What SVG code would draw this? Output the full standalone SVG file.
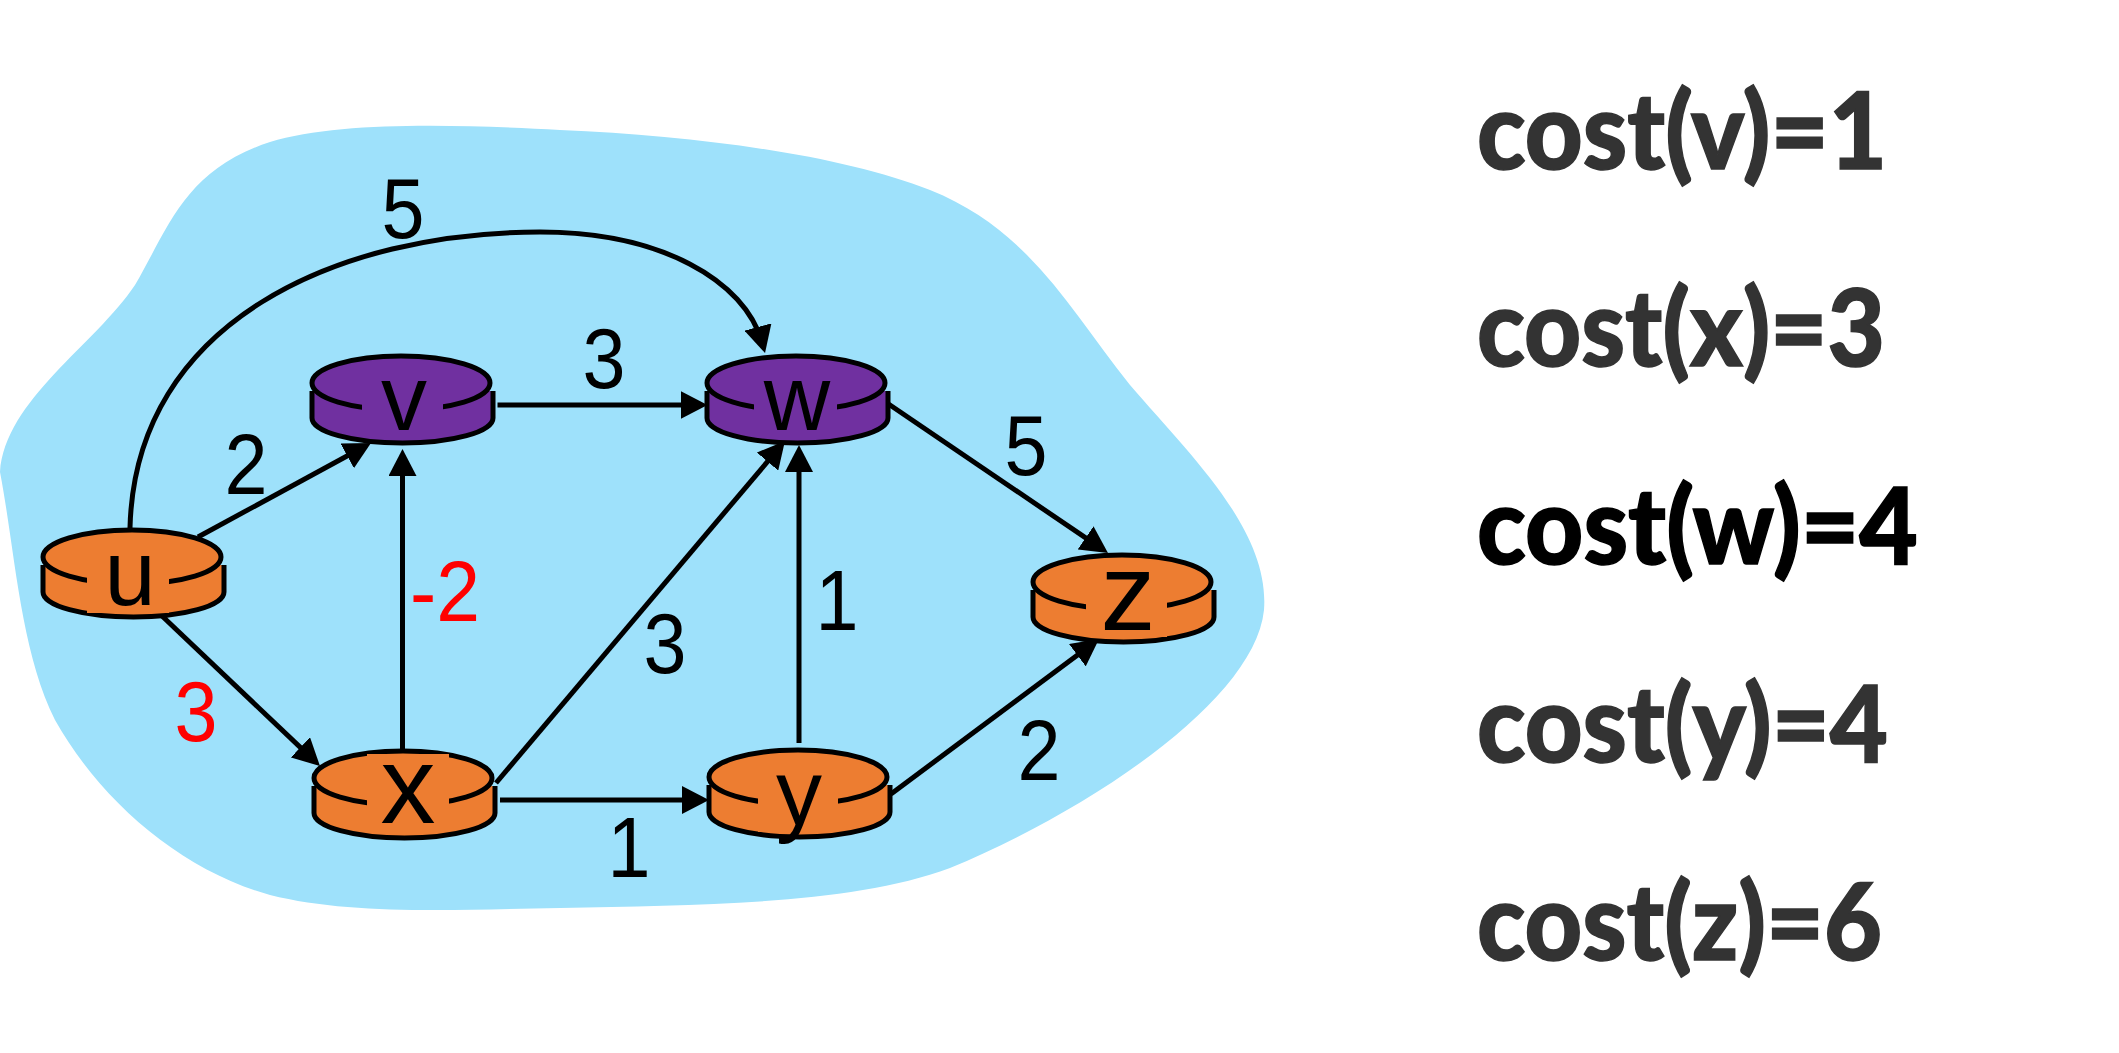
<svg xmlns="http://www.w3.org/2000/svg" width="2119" height="1053" viewBox="0 0 2119 1053">
<style>
.edge{fill:none;stroke:#000;stroke-width:5;marker-end:url(#arrow)}
.body,.top{stroke:#000;stroke-width:5;fill:inherit}
.orange{fill:#ED7D31}
.purple{fill:#7030A0}
.name{font-family:"Liberation Sans",Arial,sans-serif;font-size:92px;text-anchor:middle;fill:#000}
.big{font-size:110px}
.lab{font-family:"Liberation Sans",Arial,sans-serif;font-size:86px;text-anchor:middle;fill:#000}
.red{fill:#f00}
.cost{font-family:Lato,"Open Sans",sans-serif;font-weight:900;font-size:106px;fill:#333;stroke:#333;stroke-width:1.5}
.best{fill:#000;stroke:#000}
</style>
<defs>
<marker id="arrow" markerUnits="userSpaceOnUse" markerWidth="28" markerHeight="28" refX="17" refY="14" orient="auto"><path d="M0 0L27 14L0 28Z" fill="#000"/></marker>
<g id="disk">
<path class="body" d="M-89 8V35A90.500 25 0 0 0 92 35V8"/>
<ellipse class="top" cx="0" cy="0" rx="89" ry="27"/>
</g>
</defs>
<path id="cloud" fill="#9EE1FB" d="M0 472C5 400 95 345 135 285C170 225 185 170 270 142C340 120 470 125 560 130C700 136 840 155 930 190C1030 230 1070 310 1130 385C1190 455 1270 530 1264 610C1255 700 1090 810 950 868C850 905 700 905 560 908C450 910 350 915 270 895C180 870 100 800 55 720C20 650 15 550 0 472Z"/>
<g id="connectors">
<path class="edge" d="M130 528C135 320 340 232 540 232C660 232 745 280 762.400 343.400"/>
<path class="edge" d="M198 537L362.200 447.800"/>
<path class="edge" d="M161 615L312.700 759.100"/>
<path class="edge" d="M402.500 750V459"/>
<path class="edge" d="M497.500 405H697.500"/>
<path class="edge" d="M496 783L778.500 448.600"/>
<path class="edge" d="M799 743V455"/>
<path class="edge" d="M500 800H699"/>
<path class="edge" d="M891 794L1091 645"/>
<path class="edge" d="M887 403L1099.700 547.400"/>
</g>
<g id="node-u" class="orange" transform="translate(132 557)"><use href="#disk"/><rect x="-45" y="-18" width="82" height="74"/><text class="name" x="-2" y="48">u</text></g>
<g id="node-v" class="purple" transform="translate(401 383)"><use href="#disk"/><rect x="-39" y="-18" width="81" height="71"/><text class="name" x="3" y="47">v</text></g>
<g id="node-w" class="purple" transform="translate(796 383)"><use href="#disk"/><rect x="-42" y="-18" width="83" height="72"/><text class="name" x="1" y="47">w</text></g>
<g id="node-x" class="orange" transform="translate(403 778)"><use href="#disk"/><rect x="-36" y="-24" width="82" height="77"/><text class="name big" x="5" y="45">x</text></g>
<g id="node-y" class="orange" transform="translate(798 777)"><use href="#disk"/><rect x="-40" y="-18" width="80" height="73"/><text class="name" x="1" y="48">y</text></g>
<g id="node-z" class="orange" transform="translate(1122 582)"><use href="#disk"/><rect x="-36" y="-18" width="81" height="73"/><text class="name big" x="6" y="48">z</text></g>
<g id="labels">
<text class="lab" x="403" y="238" textLength="43" lengthAdjust="spacingAndGlyphs">5</text>
<text class="lab" x="246" y="494" textLength="43" lengthAdjust="spacingAndGlyphs">2</text>
<text class="lab" x="604" y="388" textLength="43" lengthAdjust="spacingAndGlyphs">3</text>
<text class="lab red" x="445" y="621" textLength="70" lengthAdjust="spacingAndGlyphs">-2</text>
<text class="lab" x="1026" y="475" textLength="43" lengthAdjust="spacingAndGlyphs">5</text>
<text class="lab" x="837" y="630" textLength="43" lengthAdjust="spacingAndGlyphs">1</text>
<text class="lab" x="665" y="673" textLength="43" lengthAdjust="spacingAndGlyphs">3</text>
<text class="lab red" x="196" y="741" textLength="43" lengthAdjust="spacingAndGlyphs">3</text>
<text class="lab" x="629" y="877" textLength="43" lengthAdjust="spacingAndGlyphs">1</text>
<text class="lab" x="1039" y="780" textLength="43" lengthAdjust="spacingAndGlyphs">2</text>
</g>
<g id="costs">
<text class="cost" x="1477" y="169" textLength="410" lengthAdjust="spacingAndGlyphs">cost(v)=1</text>
<text class="cost" x="1477" y="366" textLength="408" lengthAdjust="spacingAndGlyphs">cost(x)=3</text>
<text class="cost best" x="1477" y="564" textLength="441" lengthAdjust="spacingAndGlyphs">cost(w)=4</text>
<text class="cost" x="1477" y="762" textLength="411" lengthAdjust="spacingAndGlyphs">cost(y)=4</text>
<text class="cost" x="1477" y="960" textLength="405" lengthAdjust="spacingAndGlyphs">cost(z)=6</text>
</g>
</svg>
